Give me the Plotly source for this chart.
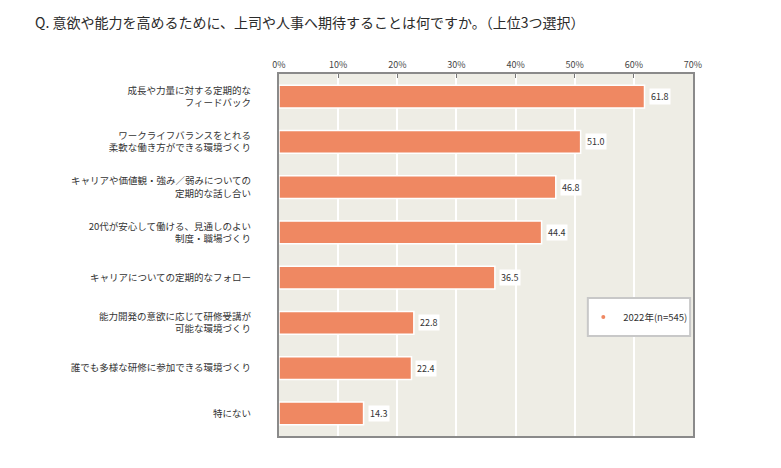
import plotly.graph_objects as go

# 設問と回答割合（%）
categories = [
    "成長や力量に対する定期的な<br>フィードバック",
    "ワークライフバランスをとれる<br>柔軟な働き方ができる環境づくり",
    "キャリアや価値観・強み／弱みについての<br>定期的な話し合い",
    "20代が安心して働ける、見通しのよい<br>制度・職場づくり",
    "キャリアについての定期的なフォロー",
    "能力開発の意欲に応じて研修受講が<br>可能な環境づくり",
    "誰でも多様な研修に参加できる環境づくり",
    "特にない",
]
values_2022 = [61.8, 51.0, 46.8, 44.4, 36.5, 22.8, 22.4, 14.3]
series_name = "2022年(n=545)"

x_ticks = [0, 10, 20, 30, 40, 50, 60, 70]
x_ticklabels = ["0%", "10%", "20%", "30%", "40%", "50%", "60%", "70%"]

title_text = "Q. 意欲や能力を高めるために、上司や人事へ期待することは何ですか。（上位3つ選択）"

BAR = "#EF8862"
FONT = "Noto Sans CJK JP"

# ページ本体の余白(8px)を差し引いたサイズ
W, H = 773, 460

fig = go.Figure()

# 棒グラフ本体
fig.add_trace(go.Bar(
    x=values_2022,
    y=categories,
    orientation="h",
    width=0.5,
    marker=dict(color=BAR, line=dict(color="white", width=1.5)),
    showlegend=False,
    hoverinfo="x+y",
))

# 凡例用の小さな点
fig.add_trace(go.Scatter(
    x=[None], y=[None],
    mode="markers",
    marker=dict(color=BAR, size=4),
    name=series_name,
    showlegend=True,
))

# 数値ラベル（白背景）
for cat, v in zip(categories, values_2022):
    fig.add_annotation(
        x=v, y=cat, text=f"{v:.1f}",
        xanchor="left", xshift=4, showarrow=False,
        bgcolor="white", borderpad=1,
        font=dict(size=9, color="#333333", family=FONT),
    )

# 凡例の枠
fig.add_shape(type="rect", xref="paper", yref="paper",
              x0=0.746, x1=0.993, y0=0.276, y1=0.381,
              fillcolor="white", line=dict(color="#C8C8C8", width=2),
              layer="above")

# ページ右側の枠線
fig.add_shape(type="line", xref="paper", yref="paper",
              x0=1.208, x1=1.208, y0=-0.2, y1=1.3,
              line=dict(color="#E6E6E6", width=2))

fig.update_layout(
    width=W, height=H,
    margin=dict(l=271, r=88, t=66, b=32),
    paper_bgcolor="white",
    plot_bgcolor="#EEEDE5",
    font=dict(family=FONT, color="#333333"),
    title=dict(
        text=title_text,
        x=27 / W, xref="container", xanchor="left",
        y=1 - 15 / H, yref="container", yanchor="middle",
        font=dict(size=14, color="#2B2B2B", family=FONT),
    ),
    xaxis=dict(
        side="top",
        range=[0, 70],
        tickvals=x_ticks,
        ticktext=x_ticklabels,
        ticks="inside", ticklen=4, tickcolor="#777777", tickwidth=1,
        tickfont=dict(size=9, color="#444444"),
        showgrid=True, gridcolor="white", gridwidth=2,
        showline=True, linecolor="#8A8A8A", linewidth=2, mirror=True,
        zeroline=False,
        fixedrange=True,
    ),
    yaxis=dict(
        autorange="reversed",
        showgrid=False,
        ticks="",
        tickfont=dict(size=9.5, color="#333333"),
        ticklabelstandoff=24,
        showline=True, linecolor="#8A8A8A", linewidth=2, mirror=True,
        fixedrange=True,
    ),
    bargap=0.5,
    legend=dict(
        x=0.735, xanchor="left",
        y=0.329, yanchor="middle",
        bgcolor="rgba(0,0,0,0)",
        borderwidth=0,
        font=dict(size=9.5, color="#333333", family=FONT),
    ),
)

fig.write_html("out.html")
